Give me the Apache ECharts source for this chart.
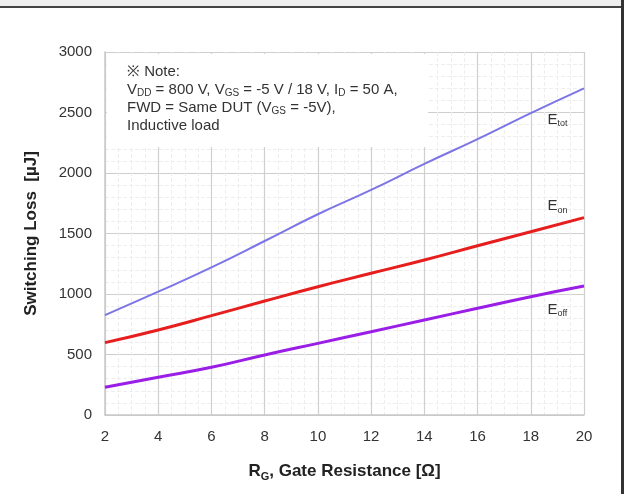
<!DOCTYPE html>
<html>
<head>
<meta charset="utf-8">
<script src="https://cdn.jsdelivr.net/npm/echarts@6/dist/echarts.min.js"></script>
<style>
  html, body { margin: 0; padding: 0; background: #fff; }
  #chart { width: 624px; height: 494px; }
</style>
</head>
<body>
<div id="chart"></div>
<script>
// gate resistance [ohm]
var rg = [2, 4, 6, 8, 10, 12, 14, 16, 18, 20]
// switching losses [uJ]
var eTot = [826, 1019, 1220, 1438, 1659, 1860, 2075, 2280, 2495, 2700]
var eOn = [598, 703, 821, 942, 1060, 1171, 1281, 1399, 1515, 1631]
var eOff = [229, 312, 394, 496, 592, 688, 785, 882, 978, 1066]
// where the curve names sit (data units)
var labelAt = { tot: [19.0, 2440], on: [19.0, 1725], off: [19.0, 868] }

var font = 'Arial, "Liberation Sans", sans-serif'

function toPairs (ys) {
  var out = []
  for (var i = 0; i < rg.length; i++) {
    out.push([rg[i], ys[i]])
  }
  return out
}

function nameMark (key, txt) {
  return {
    symbol: 'circle',
    symbolSize: 1,
    silent: true,
    itemStyle: { color: 'rgba(0,0,0,0)' },
    label: {
      show: true,
      position: 'inside',
      formatter: '{b|E}{s|' + txt + '}',
      rich: {
        b: { fontSize: 15, fontFamily: font, color: '#333' },
        s: { fontSize: 9, fontFamily: font, color: '#333', padding: [8, 0, 0, 0] }
      }
    },
    data: [{ coord: labelAt[key] }]
  }
}

var myChart = echarts.init(document.getElementById('chart'))
myChart.setOption({
  animation: false,
  backgroundColor: '#fff',
  grid: { left: 105, right: 40, top: 52, bottom: 79 },
  xAxis: {
    type: 'value',
    min: 2,
    max: 20,
    interval: 2,
    name: '{n|R}{s|G}{n|, Gate Resistance [Ω]}',
    nameLocation: 'middle',
    nameGap: 46,
    nameTextStyle: {
      rich: {
        n: { fontSize: 17, fontWeight: 'bold', fontFamily: font, color: '#222' },
        s: { fontSize: 11, fontWeight: 'bold', fontFamily: font, color: '#222', padding: [10, 0, 0, 0] }
      }
    },
    axisLine: { show: true, lineStyle: { color: '#c8c8c8', width: 1.5 } },
    axisTick: { show: false },
    axisLabel: { fontSize: 15, fontFamily: font, color: '#333', margin: 14 },
    splitLine: { show: true, lineStyle: { color: '#cfcfcf', width: 1.2 } },
    minorTick: { show: false, splitNumber: 4 },
    minorSplitLine: { show: true, lineStyle: { color: '#eeeeee', width: 1, type: 'dashed' } }
  },
  yAxis: {
    type: 'value',
    min: 0,
    max: 3000,
    interval: 500,
    name: 'Switching Loss  [µJ]',
    nameLocation: 'middle',
    nameGap: 65,
    nameTextStyle: { fontSize: 17, fontWeight: 'bold', fontFamily: font, color: '#222' },
    axisLine: { show: true, lineStyle: { color: '#c8c8c8', width: 1.5 } },
    axisTick: { show: false },
    axisLabel: { fontSize: 15, fontFamily: font, color: '#333', margin: 13, formatter: function (v) { return String(v) } },
    splitLine: { show: true, lineStyle: { color: '#cfcfcf', width: 1.2 } },
    minorTick: { show: false, splitNumber: 5 },
    minorSplitLine: { show: true, lineStyle: { color: '#eeeeee', width: 1, type: 'dashed' } }
  },
  series: [
    {
      name: 'Etot',
      type: 'line',
      smooth: true,
      symbol: 'none',
      data: toPairs(eTot),
      lineStyle: { color: '#7d74e6', width: 2 },
      markPoint: nameMark('tot', 'tot')
    },
    {
      name: 'Eon',
      type: 'line',
      smooth: true,
      symbol: 'none',
      data: toPairs(eOn),
      lineStyle: { color: '#e61e1e', width: 3 },
      markPoint: nameMark('on', 'on')
    },
    {
      name: 'Eoff',
      type: 'line',
      smooth: true,
      symbol: 'none',
      data: toPairs(eOff),
      lineStyle: { color: '#9a1ee6', width: 3 },
      markPoint: nameMark('off', 'off')
    }
  ],
  graphic: [
    // frame bits of the original scan
    { type: 'rect', left: 0, top: 0, shape: { width: 624, height: 6 }, style: { fill: '#efefef' }, z: 100 },
    { type: 'rect', left: 0, top: 6, shape: { width: 624, height: 2 }, style: { fill: '#444' }, z: 100 },
    { type: 'rect', left: 621, top: 0, shape: { width: 3, height: 494 }, style: { fill: '#333' }, z: 100 },
    // note box covering the grid
    { type: 'rect', left: 107, top: 54, shape: { width: 321, height: 93 }, style: { fill: '#fff' }, z: 50 },
    {
      type: 'text',
      left: 127,
      top: 63,
      z: 60,
      style: {
        text: '※ Note:\n' +
          '{n|V}{s|DD}{n| = 800 V, V}{s|GS}{n| = -5 V / 18 V, I}{s|D}{n| = 50 A,}\n' +
          '{n|FWD = Same DUT (V}{s|GS}{n| = -5V),}\n' +
          'Inductive load',
        font: '15px ' + font,
        fill: '#333',
        lineHeight: 18,
        rich: {
          n: { fontSize: 15, fontFamily: font, color: '#333', lineHeight: 18 },
          s: { fontSize: 10, fontFamily: font, color: '#333', lineHeight: 18, padding: [7, 0, 0, 0] }
        }
      }
    }
  ]
})
</script>
</body>
</html>
